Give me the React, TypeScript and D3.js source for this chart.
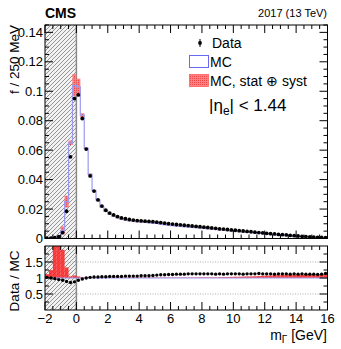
import React from "react";
import * as d3 from "d3";

// m_Gamma bins, 250 MeV wide, from -2 to 16 GeV
const binCenters = d3.range(-1.875, 16, 0.25);
const binWidth = 0.25;

const dataVals = [
  0.0002, 0.0003, 0.0006, 0.0012, 0.004, 0.0185, 0.0555, 0.095,
  0.0975, 0.0815, 0.0607, 0.0425, 0.0322, 0.0262, 0.022, 0.0192,
  0.0173, 0.016, 0.0149, 0.014, 0.0134, 0.0129, 0.0125, 0.0122,
  0.012, 0.0118, 0.0116, 0.0114, 0.0111, 0.0108, 0.0104, 0.0101,
  0.0098, 0.0095, 0.0093, 0.009, 0.0088, 0.0085, 0.0083, 0.008,
  0.0077, 0.0075, 0.0072, 0.0069, 0.0066, 0.0064, 0.0061, 0.0058,
  0.0056, 0.0053, 0.0051, 0.0048, 0.0046, 0.0043, 0.004, 0.0038,
  0.0035, 0.0033, 0.0031, 0.0028, 0.0026, 0.0024, 0.0021, 0.0019,
  0.0017, 0.0015, 0.0013, 0.0011, 0.001, 0.0008, 0.0007, 0.0006,
];

const mcVals = [
  0.0002, 0.0003, 0.0006, 0.001, 0.0055, 0.025, 0.065, 0.104,
  0.103, 0.0838, 0.0613, 0.0435, 0.0325, 0.0262, 0.0215, 0.0185,
  0.0166, 0.0152, 0.0141, 0.0132, 0.0126, 0.0121, 0.0117, 0.0114,
  0.0112, 0.011, 0.0107, 0.0105, 0.0102, 0.0098, 0.0094, 0.0091,
  0.0088, 0.0085, 0.0083, 0.008, 0.0078, 0.0075, 0.0074, 0.0071,
  0.0068, 0.0066, 0.0064, 0.0061, 0.0058, 0.0057, 0.0054, 0.0051,
  0.005, 0.0047, 0.0045, 0.0043, 0.0041, 0.0038, 0.0035, 0.0034,
  0.0031, 0.0029, 0.0027, 0.0025, 0.0023, 0.0021, 0.0019, 0.0017,
  0.0015, 0.0013, 0.0012, 0.001, 0.0009, 0.0007, 0.0006, 0.0005,
];

const mcErr = [
  0.0001, 0.0001, 0.0003, 0.0008, 0.0027, 0.004, 0.0015, 0.0075,
  0.0055, 0.0013, 0.0006, 0.0007, 0.0004, 0.0003, 0.0003, 0.0002,
  0.0002, 0.0002, 0.0002, 0.0002, 0.0002, 0.0002, 0.0002, 0.0002,
  0.0002, 0.0002, 0.0002, 0.0002, 0.0002, 0.0002, 0.0002, 0.0002,
  0.0002, 0.0002, 0.0002, 0.0002, 0.0002, 0.0002, 0.0002, 0.0002,
  0.0002, 0.0002, 0.0002, 0.0002, 0.0002, 0.0002, 0.0002, 0.0002,
  0.0002, 0.0002, 0.0002, 0.0002, 0.0002, 0.0002, 0.0002, 0.0002,
  0.0002, 0.0002, 0.0002, 0.0002, 0.0002, 0.0002, 0.0002, 0.0002,
  0.0002, 0.0002, 0.0002, 0.0002, 0.0002, 0.0002, 0.0002, 0.0002,
];

const ratioVals = [
  1.02, 1.0, 0.98, 0.95, 0.93, 0.89, 0.86, 0.88,
  0.93, 0.97, 1.0, 1.02, 1.03, 1.03, 1.04, 1.04,
  1.05, 1.05, 1.05, 1.05, 1.06, 1.06, 1.06, 1.06,
  1.07, 1.07, 1.07, 1.08, 1.09, 1.1, 1.1, 1.11,
  1.11, 1.12, 1.12, 1.12, 1.13, 1.13, 1.13, 1.13,
  1.13, 1.13, 1.13, 1.12, 1.13, 1.12, 1.13, 1.13,
  1.13, 1.13, 1.12, 1.13, 1.13, 1.13, 1.14, 1.13,
  1.13, 1.13, 1.12, 1.13, 1.13, 1.13, 1.12, 1.13,
  1.12, 1.13, 1.12, 1.12, 1.12, 1.11, 1.12, 1.14,
];

const ratioErr = [
  0.12, 0.25, 1.5, 1.5, 0.88, 0.33, 0.05, 0.08,
  0.05, 0.02, 0.02, 0.03, 0.015, 0.015, 0.015, 0.015,
  0.015, 0.015, 0.015, 0.015, 0.015, 0.015, 0.015, 0.015,
  0.015, 0.015, 0.015, 0.015, 0.015, 0.015, 0.015, 0.015,
  0.015, 0.015, 0.015, 0.015, 0.015, 0.015, 0.015, 0.02,
  0.02, 0.02, 0.02, 0.02, 0.025, 0.03, 0.03, 0.035,
  0.04, 0.04, 0.045, 0.05, 0.05, 0.055, 0.06, 0.07,
  0.08, 0.08, 0.09, 0.09, 0.1, 0.1, 0.1, 0.1,
  0.1, 0.1, 0.11, 0.11, 0.11, 0.11, 0.12, 0.12,
];

const xTickVals = [-2, 0, 2, 4, 6, 8, 10, 12, 14, 16];
const xTickLabels = ["\u22122", "0", "2", "4", "6", "8", "10", "12", "14", "16"];
const yTickVals = [0, 0.02, 0.04, 0.06, 0.08, 0.1, 0.12, 0.14];
const yTickLabels = ["0", "0.02", "0.04", "0.06", "0.08", "0.1", "0.12", "0.14"];
// the "2" at the top of the ratio axis is hidden under the upper pad
const rTickVals = [0.5, 1, 1.5];
const rTickLabels = ["0.5", "1", "1.5"];

const FONT = "Liberation Sans, Arial, Helvetica, sans-serif";
const W = 341;
const H = 349;

export default function App() {
  const x = d3.scaleLinear().domain([-2, 16]).range([45, 327.5]);
  const y = d3.scaleLinear().domain([0, 0.145]).range([238.5, 25]);
  const yr = d3.scaleLinear().domain([0, 2]).range([310, 246]);

  const [xl, xr] = x.range();
  const [yb, yt] = y.range();
  const [rb, rt] = yr.range();

  const minorX = d3.range(-2, 16.01, 0.5);
  const minorY = d3.range(0, 0.1451, 0.005);
  const minorR = d3.range(0.25, 2, 0.25);

  // MC histogram as a step line over bin edges
  const stepPts: [number, number][] = binCenters.map((c, i) => [c - binWidth / 2, mcVals[i]]);
  stepPts.push([16, mcVals[mcVals.length - 1]]);
  const step = d3
    .line<[number, number]>()
    .x((d) => x(d[0]))
    .y((d) => y(d[1]))
    .curve(d3.curveStepAfter);

  const ticksFor = (top: number, bottom: number, majLen: number, minLen: number) => (
    <g stroke="#000" strokeWidth={1}>
      {minorX.map((v) => {
        const len = Math.abs(v % 2) < 1e-6 ? majLen : minLen;
        return (
          <g key={v}>
            <line x1={x(v)} x2={x(v)} y1={bottom} y2={bottom - len} />
            <line x1={x(v)} x2={x(v)} y1={top} y2={top + len} />
          </g>
        );
      })}
    </g>
  );

  return (
    <svg
      width={W}
      height={H}
      style={{ position: "absolute", left: 0, top: 0, background: "#fff" }}
      fontFamily={FONT}
    >
      <defs>
        <pattern id="hatch" patternUnits="userSpaceOnUse" width={4} height={4}>
          <rect width={4} height={4} fill="#f2f2f2" />
          <path d="M-1,1 l2,-2 M0,4 l4,-4 M3,5 l2,-2" stroke="#6f6f6f" strokeWidth={0.7} />
        </pattern>
        <pattern id="errfill" patternUnits="userSpaceOnUse" width={2} height={2}>
          <rect width={2} height={2} fill="#ff8080" />
          <rect width={1} height={1} fill="#f04848" />
        </pattern>
        <clipPath id="topclip">
          <rect x={xl} y={yt} width={xr - xl} height={yb - yt} />
        </clipPath>
        <clipPath id="ratioclip">
          <rect x={xl} y={rt} width={xr - xl} height={rb - rt} />
        </clipPath>
      </defs>

      {/* ---------- upper panel ---------- */}
      <rect x={x(-2)} y={yt} width={x(0) - x(-2)} height={yb - yt} fill="url(#hatch)" />
      <line x1={x(0)} x2={x(0)} y1={yt} y2={yb} stroke="#8a8a8a" strokeWidth={1.5} />

      <g clipPath="url(#topclip)">
        {binCenters.map((c, i) => (
          <rect
            key={i}
            x={x(c - binWidth / 2)}
            width={x(c + binWidth / 2) - x(c - binWidth / 2)}
            y={y(mcVals[i] + mcErr[i])}
            height={Math.max(0.8, y(mcVals[i] - mcErr[i]) - y(mcVals[i] + mcErr[i]))}
            fill="url(#errfill)"
          />
        ))}
        <path d={step(stepPts) ?? ""} fill="none" stroke="#9a9af0" strokeWidth={1.2} />
        {binCenters.map((c, i) => (
          <circle key={i} cx={x(c)} cy={y(dataVals[i])} r={1.9} fill="#000" />
        ))}
      </g>

      <rect x={xl} y={yt} width={xr - xl} height={yb - yt} fill="none" stroke="#000" strokeWidth={1} />
      {ticksFor(yt, yb, 8, 4)}
      <g stroke="#000" strokeWidth={1}>
        {minorY.map((v, i) => {
          const len = i % 4 === 0 ? 8 : 4;
          return (
            <g key={i}>
              <line x1={xl} x2={xl + len} y1={y(v)} y2={y(v)} />
              <line x1={xr} x2={xr - len} y1={y(v)} y2={y(v)} />
            </g>
          );
        })}
      </g>
      {yTickVals.map((v, i) => (
        <text key={v} x={xl - 2} y={y(v) + 4.5} fontSize={13} textAnchor="end">
          {yTickLabels[i]}
        </text>
      ))}
      <text
        transform={`translate(19,${yt}) rotate(-90)`}
        fontSize={13.5}
        textAnchor="end"
      >
        f / 250 MeV
      </text>

      <text x={45} y={18} fontSize={14} fontWeight="bold">CMS</text>
      <text x={327} y={17} fontSize={11} textAnchor="end">2017 (13 TeV)</text>

      {/* legend */}
      <line x1={200} x2={200} y1={39} y2={47} stroke="#000" strokeWidth={1} />
      <circle cx={200} cy={43} r={1.9} fill="#000" />
      <text x={212} y={48} fontSize={14}>Data</text>
      <rect x={189.5} y={55.5} width={19} height={12} fill="#fff" stroke="#6a6af0" strokeWidth={1} />
      <text x={210} y={67} fontSize={14}>MC</text>
      <rect x={189.5} y={74.5} width={19} height={12} fill="url(#errfill)" stroke="#ff6060" strokeWidth={0.8} />
      <text x={210} y={85.5} fontSize={14}>MC, stat {"\u2295"} syst</text>
      <text x={209} y={111} fontSize={17}>
        |η<tspan fontSize={12} dy={4}>e</tspan>
        <tspan dy={-4}>| &lt; 1.44</tspan>
      </text>

      {/* ---------- ratio panel ---------- */}
      <rect x={x(-2)} y={rt} width={x(0) - x(-2)} height={rb - rt} fill="url(#hatch)" />
      <line x1={x(0)} x2={x(0)} y1={rt} y2={rb} stroke="#8a8a8a" strokeWidth={1.5} />

      <g stroke="#9a9a9a" strokeWidth={0.8} strokeDasharray="1,1.5">
        <line x1={xl} x2={xr} y1={yr(1.5)} y2={yr(1.5)} />
        <line x1={xl} x2={xr} y1={yr(0.5)} y2={yr(0.5)} />
      </g>

      <g clipPath="url(#ratioclip)">
        {binCenters.map((c, i) => (
          <rect
            key={i}
            x={x(c - binWidth / 2)}
            width={x(c + binWidth / 2) - x(c - binWidth / 2)}
            y={yr(1 + ratioErr[i])}
            height={yr(1) - yr(1 + ratioErr[i])}
            fill="#ff2020"
            opacity={0.85}
          />
        ))}
        <line x1={xl} x2={xr} y1={yr(1)} y2={yr(1)} stroke="#9a9af0" strokeWidth={1.2} />
        {binCenters.map((c, i) => (
          <circle key={i} cx={x(c)} cy={yr(ratioVals[i])} r={1.7} fill="#000" />
        ))}
      </g>

      <rect x={xl} y={rt} width={xr - xl} height={rb - rt} fill="none" stroke="#000" strokeWidth={1} />
      {ticksFor(rt, rb, 8, 4)}
      <g stroke="#000" strokeWidth={1}>
        {minorR.map((v) => {
          const len = Math.abs(v % 0.5) < 1e-6 ? 8 : 4;
          return (
            <g key={v}>
              <line x1={xl} x2={xl + len} y1={yr(v)} y2={yr(v)} />
              <line x1={xr} x2={xr - len} y1={yr(v)} y2={yr(v)} />
            </g>
          );
        })}
      </g>
      {rTickVals.map((v, i) => (
        <text key={v} x={xl - 2} y={yr(v) + 4.5} fontSize={13} textAnchor="end">
          {rTickLabels[i]}
        </text>
      ))}
      <text
        transform={`translate(19,${(rt + rb) / 2 + 3}) rotate(-90)`}
        fontSize={13.5}
        textAnchor="middle"
      >
        Data / MC
      </text>
      {xTickVals.map((v, i) => (
        <text key={v} x={x(v)} y={rb + 13} fontSize={13} textAnchor="middle">
          {xTickLabels[i]}
        </text>
      ))}
      <text x={327} y={340} fontSize={14} textAnchor="end">
        m<tspan fontSize={10} dy={3}>Γ</tspan>
        <tspan dy={-3}> [GeV]</tspan>
      </text>
    </svg>
  );
}
